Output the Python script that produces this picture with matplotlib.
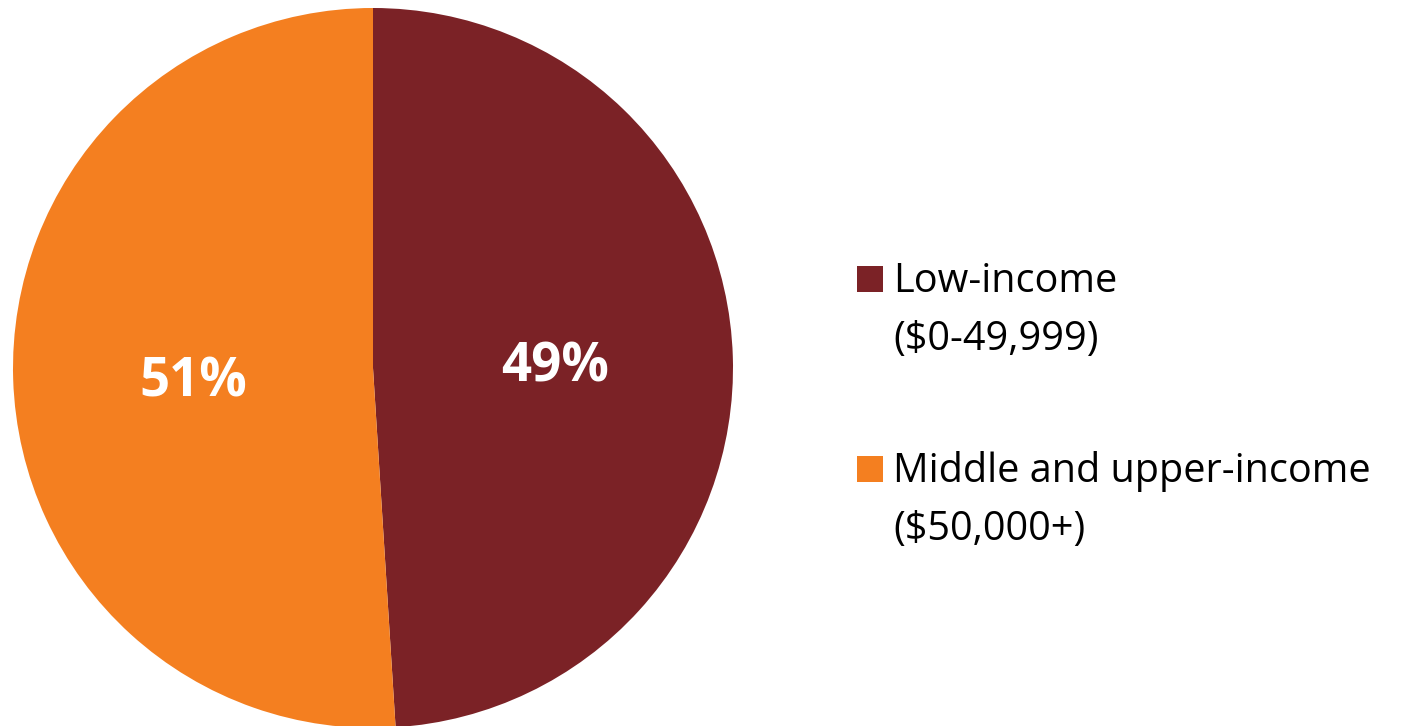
import matplotlib
matplotlib.use('Agg')
import matplotlib.pyplot as plt
from matplotlib.patches import Rectangle

labels = ['Low-income\n($0-49,999)', 'Middle and upper-income\n($50,000+)']
values = [49, 51]
pct_text = ['49%', '51%']
colors = ['#7B2226', '#F47F20']

plt.rcParams['font.family'] = ['Open Sans', 'DejaVu Sans']

W, H = 1410, 726
fig = plt.figure(figsize=(W / 100, H / 100), dpi=100)
ax = fig.add_axes([13 / W, -2 / H, 720 / W, 720 / H])

wedges, _ = ax.pie(values, colors=colors, startangle=90, counterclock=False,
                   radius=1.0, wedgeprops=dict(linewidth=0))
ax.set_xlim(-1, 1)
ax.set_ylim(-1, 1)
ax.set_aspect('equal')

# percentage labels inside slices
ax.text(0.505, 0.0, pct_text[0], color='white', fontsize=38, fontweight='bold',
        ha='center', va='center')
ax.text(-0.5, -0.04, pct_text[1], color='white', fontsize=38, fontweight='bold',
        ha='center', va='center')

# legend drawn by hand: square + two text lines per entry
sq = 26
for i, (lab, c) in enumerate(zip(labels, colors)):
    base = 292 + i * 190          # baseline of first line, px from top
    fig.patches.append(Rectangle((857 / W, (H - base) / H), sq / W, sq / H,
                                 transform=fig.transFigure, facecolor=c,
                                 edgecolor='none'))
    for j, line in enumerate(lab.split('\n')):
        fig.text(893 / W, (H - base - j * 58) / H, line, fontsize=28.5,
                 ha='left', va='baseline', color='black')

fig.savefig('out.png', dpi=100)
